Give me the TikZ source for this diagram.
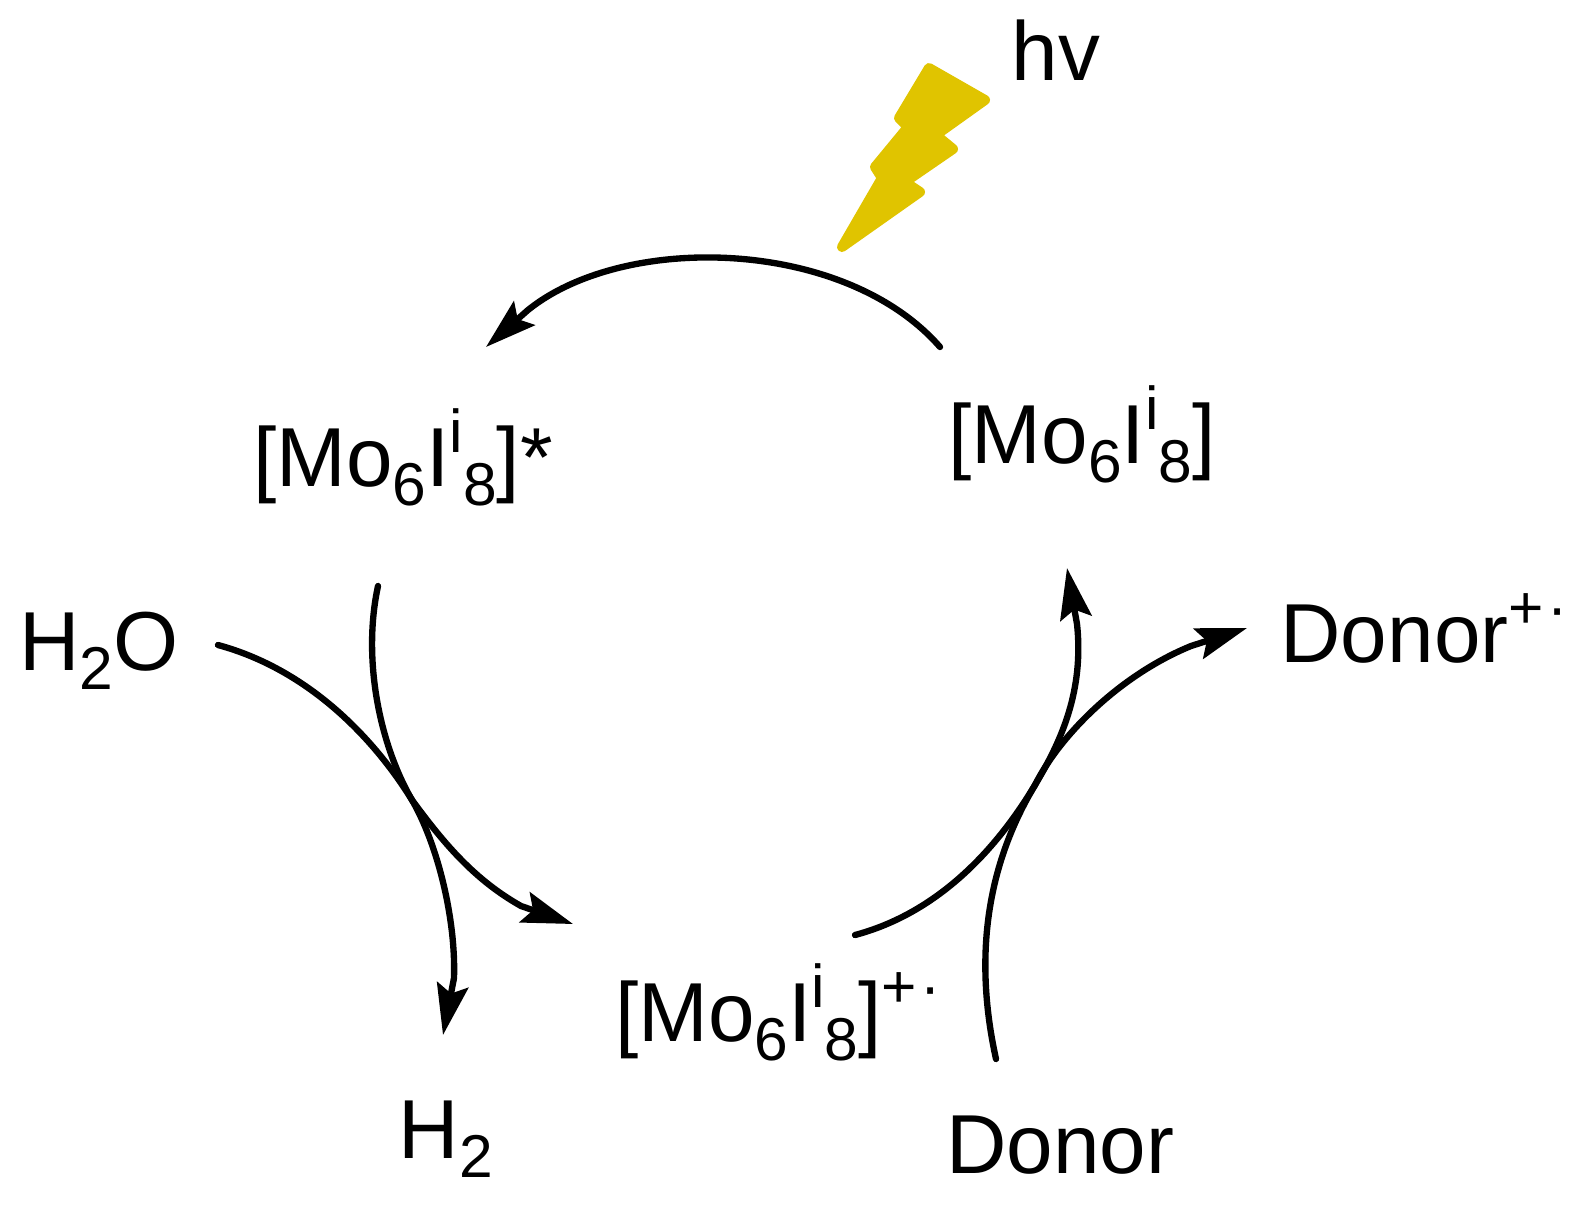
\documentclass[tikz,border=0pt]{standalone}
\usepackage{fontspec}
\setmainfont{Liberation Sans}
\usetikzlibrary{arrows.meta}
\definecolor{boltyellow}{HTML}{E0C400}
\newcommand{\lowidx}[1]{\raisebox{-5.5pt}{\fontsize{17.2}{18}\selectfont #1}}
\newcommand{\upidx}[1]{\raisebox{9.5pt}{\fontsize{17.2}{18}\selectfont #1}}
\tikzset{
    species/.style={anchor=base, inner sep=0pt, font=\fontsize{23.8}{28}\selectfont},
    rxn/.style={line width=1.8pt, line cap=round, -{Stealth[length=14.5pt, width=9pt, inset=2.5pt]}},
}
\begin{document}
\begin{tikzpicture}[x=0.01cm, y=-0.01cm]
    \useasboundingbox (0, 0) rectangle (1579, 1212);
    \node[species] (mo) at (1082, 463) {[Mo\lowidx{6}I\upidx{i}\lowidx{8}]};
    \node[species] (mostar) at (403, 486) {[Mo\lowidx{6}I\upidx{i}\lowidx{8}]*};
    \node[species] (mocation) at (778, 1041) {[Mo\lowidx{6}I\upidx{i}\lowidx{8}]\upidx{+\kern1pt·}};
    \node[species] (water) at (99, 670) {H\lowidx{2}O};
    \node[species] (hydrogen) at (446, 1158) {H\lowidx{2}};
    \node[species] (donor) at (1060, 1173) {Donor};
    \node[species] (donorplus) at (1424, 662) {Donor\upidx{+\kern1pt·}};
    \node[species] (hv) at (1056, 80) {hv};
    \filldraw[color=boltyellow, line join=round, line width=0.1cm]
        (929, 68) -- (985, 100) -- (936, 135) -- (953, 149) -- (905, 182)
        -- (920, 192) -- (842, 247) -- (882, 178) -- (875, 167) -- (908, 127) -- (899, 118) -- cycle;
    \draw[rxn] ([shift={(-142, -116)}]mo.base) .. controls (845, 238) and (625, 232)
        .. (528, 310) -- ([shift={(83, -139)}]mostar.base);
    \draw[rxn] ([shift={(-25, 100)}]mostar.base) .. controls (362, 660) and (380, 745)
        .. (412, 800) .. controls (438, 845) and (456, 920) .. (454, 978)
        -- ([shift={(-3, -123)}]hydrogen.base);
    \draw[rxn] ([shift={(119, -25)}]water.base) .. controls (310, 670) and (375, 740)
        .. (412, 800) .. controls (445, 845) and (475, 880) .. (521, 906)
        -- ([shift={(-205, -117)}]mocation.base);
    \draw[rxn] ([shift={(77, -106)}]mocation.base) .. controls (930, 915) and (990, 860)
        .. (1035, 785) .. controls (1060, 735) and (1120, 675) .. (1191, 646)
        -- ([shift={(-177, -34)}]donorplus.base);
    \draw[rxn] ([shift={(-64, -114)}]donor.base) .. controls (972, 950) and (990, 860)
        .. (1035, 785) .. controls (1062, 740) and (1084, 690) .. (1077, 624)
        -- ([shift={(-15, 105)}]mo.base);
\end{tikzpicture}
\end{document}
